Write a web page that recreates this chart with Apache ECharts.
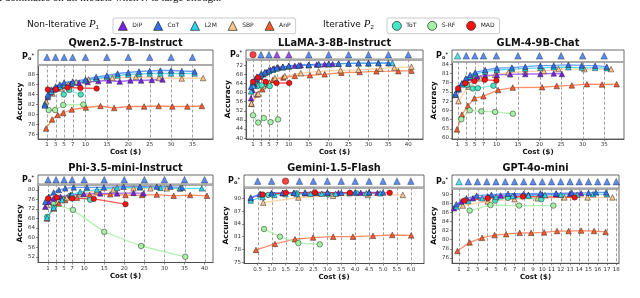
<!DOCTYPE html>
<html><head><meta charset="utf-8">
<script src="https://cdn.jsdelivr.net/npm/echarts@6/dist/echarts.min.js"></script>
<style>html,body{margin:0;padding:0;background:#fff}#c{width:640px;height:298px}</style>
</head><body><div id="c"></div>
<script>
// ---------------- DATA ----------------
const methods = ['AnP','SBP','S-RF','ToT','DiP','L2M','CoT','MAD'];
const legendP1 = ['DiP','CoT','L2M','SBP','AnP'];
const legendP2 = ['ToT','S-RF','MAD'];

// Qwen2.5-7B-Instruct
const qwenDiP = [[0.5,82.0],[1.2,83.5],[1.8,84.4],[2.5,85.0],[3.5,85.4],[5,85.8],[6.5,86.1],[8.5,86.3],[10.5,86.5],[13,86.7],[15.5,86.8],[18,86.6],[20.5,86.8],[23,86.8],[25.5,86.9],[28,87.0]];
const qwenCoT = [[0.5,81.8],[1.2,84.0],[2,85.0],[3,85.6],[4,86.0],[5,86.4],[7,86.6],[10,87.0],[12.5,87.5],[15,87.8],[17.5,88.2],[20,88.4],[22.5,88.6],[25,88.7],[27.5,88.8],[30,88.8],[32.5,88.7],[35.5,88.6]];
const qwenL2M = [[0.5,82.1],[1.2,83.8],[2,84.6],[3,85.2],[4,85.6],[5,85.9],[7,86.3],[10,86.8],[12.5,87.2],[15,87.5],[17.5,87.8],[20,88.0],[22.5,88.1],[25,88.2],[27.5,88.2],[30,88.2],[32.5,88.2],[35.5,88.2]];
const qwenSBP = [[0.8,82.6],[2.3,84.2],[4.3,85.2],[6,86.0],[7.8,86.5],[10.7,87.0],[16.3,87.3],[21.8,87.5],[27.2,87.3],[32.5,87.2],[37.5,87.3]];
const qwenAnP = [[0.8,77.2],[2.2,79.0],[3.5,79.9],[4.8,80.3],[6.8,81.0],[10.1,81.4],[13.5,81.7],[16.7,81.3],[20.2,81.6],[23.7,81.6],[27.1,81.7],[30.3,81.6],[33.8,81.6],[37.2,81.7]];
const qwenToT = [[4.9,84.0],[6.2,84.9],[8.9,84.0]];
const qwenSRF = [[1.4,80.9],[2.9,80.9],[4.8,81.9],[9.5,82.0]];
const qwenMAD = [[1.2,85.0],[3.1,85.0],[5.8,85.4],[8.8,85.3],[12.6,85.2]];
const qwenPoX = [1,3,5,7,10,15,20,25,30,35];
const qwenPoM = ['CoT','CoT','CoT','CoT','CoT','CoT','CoT','CoT','CoT','CoT'];
const qwenXTicks = [1,3,5,7,10,15,20,25,30,35];
const qwenYTicks = [76,78,80,82,84,86,88];

// LLaMA-3-8B-Instruct
const llamaDiP = [[0.5,57.5],[0.9,61],[1.4,63.5],[2,65.5],[2.8,67],[3.6,68],[4.5,69],[5.4,70],[6.3,70.6],[7.3,71],[8.5,71.3],[10,71.5],[11.5,71.8],[13,72],[15,72.1],[17,72.3],[19,72.4],[21,72.5]];
const llamaCoT = [[0.5,62.5],[1,64.5],[1.5,66],[2,67],[3,68.2],[4,69],[5,69.8],[6,70.4],[7,71],[8.5,71.3],[10,71.8],[12.5,72],[15,72.2],[17.5,72.5],[20,72.6],[22.5,72.7],[25,72.8],[27.5,72.9],[30,72.9],[32.5,73.0],[35,72.9]];
const llamaL2M = [[0.5,60.5],[1,63],[1.5,65],[2,66.3],[3,67.6],[4,68.6],[5,69.4],[6,70],[7,70.6],[8.5,71],[10,71.4],[12.5,71.8],[15,72],[17.5,72.3],[20,72.4],[22.5,72.6],[25,72.7],[27.5,72.8],[30,72.8],[32.5,72.9],[36,73.0]];
const llamaSBP = [[0.6,55.2],[2.3,59.5],[3.6,62.8],[5.1,64.3],[6.5,66.3],[9,67.2],[13,68.5],[17.5,69.3],[23,69.8],[27.5,70.0],[33,70.5],[36.5,70.9],[40.8,71.3]];
const llamaAnP = [[0.6,55.0],[2.0,59.1],[3.35,61.4],[4.8,63.5],[6.0,65.6],[8.6,66.6],[11.5,67.3],[15.3,67.6],[19.0,68.0],[23.2,68.7],[27.8,69.0],[32.0,69.3],[37.5,69.4],[40.8,69.6]];
const llamaToT = [[2.1,62.8],[3.2,63.2],[5.2,62.8]];
const llamaSRF = [[1.0,50.0],[2.3,46.8],[3.7,48.8],[5.4,47.0],[7.3,48.2]];
const llamaMAD = [[1.0,64.7],[2.3,66.6],[4.2,64.7],[6.9,64.2],[10.1,64.2]];
const llamaPoX = [1,3,5,7,10,15,20,25,30,35,40];
const llamaPoM = ['MAD','CoT','CoT','DiP','DiP','CoT','CoT','CoT','CoT','CoT','CoT'];
const llamaXTicks = [1,3,5,7,10,15,20,25,30,35,40];
const llamaYTicks = [40,44,48,52,56,60,64,68,72];

// GLM-4-9B-Chat
const glmDiP = [[0.5,74.0],[1.2,75.8],[2.0,77.6],[2.8,78.7],[3.9,79.6],[5.5,80.0],[7.4,80.3],[10.1,80.5],[13.2,80.7],[16.7,80.8],[20.2,80.8],[23.3,81.0],[25.2,80.8]];
const glmCoT = [[0.5,74.5],[1.2,76.4],[2.0,77.8],[2.9,79.4],[3.9,80.5],[5.1,81.3],[7.4,82.1],[10.1,82.7],[13.6,82.9],[16.7,83.2],[20.2,83.5],[23.3,83.6],[26.7,83.8],[29.8,83.6],[32.9,83.5],[35.6,83.2]];
const glmL2M = [[0.5,74.2],[1.2,76.0],[2.0,77.4],[2.9,78.9],[3.9,80.0],[5.1,80.8],[7.4,81.6],[10.1,82.1],[13.6,82.4],[16.7,82.6],[20.2,82.8],[23.3,83.0],[26.7,83.0],[29.8,82.9],[32.9,82.8],[35.6,82.7]];
const glmSBP = [[1.2,72.0],[3.5,76.7],[6.3,79.4],[9.7,80.5],[12.8,81.3],[16.7,81.6],[21,81.8],[24.4,82.4],[30.4,82.4],[36.6,82.4]];
const glmAnP = [[0.85,62.8],[2.0,67.6],[3.4,70.5],[4.9,72.9],[7.0,73.6],[10.4,75.6],[13.8,76.4],[20.6,76.5],[24.0,76.9],[27.5,77.1],[31.0,77.5],[34.5,77.4],[37.9,77.5]];
const glmToT = [[3.2,77.2],[4.5,76.1],[5.7,76.2],[9.3,77.0]];
const glmSRF = [[1.85,66.1],[3.8,69.0],[6.5,68.7],[9.7,68.5],[13.8,67.9]];
const glmMAD = [[1.1,76.1],[2.8,77.8],[4.9,78.5],[7.3,78.9],[10.0,78.7]];
const glmPoX = [1,3,5,7,10,15,20,25,30,35];
const glmPoM = ['L2M','CoT','CoT','CoT','CoT','CoT','CoT','CoT','CoT','CoT'];
const glmXTicks = [1,3,5,7,10,15,20,25,30,35];
const glmYTicks = [60,63,66,69,72,75,78,81,84];

// Phi-3.5-mini-Instruct
const phiDiP = [[0.3,72.9],[1.2,75.0],[2.4,76.4],[4.1,77.1],[6.6,77.8],[9.9,78.2],[14.0,78.5],[18.2,78.5],[22.3,78.7],[24.8,78.5]];
const phiCoT = [[0.3,75.0],[1.2,77.1],[2.4,78.9],[3.7,79.9],[5.3,80.6],[7.4,81.0],[10.7,81.0],[14.9,81.0],[19.8,81.3],[23.9,81.3],[28.1,81.3],[31.5,81.3],[34.4,80.9]];
const phiL2M = [[0.75,68.3],[2.4,72.5],[4.5,75.7],[7.0,78.0],[9.0,79.2],[13.2,80.1],[18.2,80.8],[23.9,81.0],[29.0,80.8],[33.9,80.6],[39.3,80.6]];
const phiSBP = [[0.75,73.6],[2.8,75.0],[5.7,76.8],[9.0,78.5],[13.2,79.4],[17.3,80.1],[22.3,80.6],[26.5,80.6],[30.6,80.6],[33.9,80.6]];
const phiAnP = [[0.75,68.0],[2.4,72.2],[3.7,74.3],[5.3,75.7],[8.2,76.7],[11.4,77.8],[16.5,78.1],[20.3,77.8],[24.4,77.8],[28.1,78.0],[32.3,77.5],[36.4,77.8],[40.6,77.5]];
const phiToT = [[0.8,68.7],[2.4,72.6],[4.5,76.2],[6.5,77.5],[11.5,75.8]];
const phiSRF = [[2.3,74.0],[7.2,71.6],[15.0,62.4],[24.2,56.5],[35.2,52.0]];
const phiMAD = [[1.0,76.4],[3.2,76.8],[7.0,76.4],[12.4,76.2],[20.3,74.0]];
const phiPoX = [1,3,5,7,10,15,20,25,30,35,40];
const phiPoM = ['CoT','CoT','CoT','CoT','CoT','CoT','CoT','CoT','CoT','CoT','CoT'];
const phiXTicks = [1,3,5,7,10,15,20,25,30,35,40];
const phiYTicks = [52,56,60,64,68,72,76,80];

// Gemini-1.5-Flash
const gemDiP = [[0.25,90.0],[0.6,91.0],[1.0,91.2],[1.4,91.2],[1.8,91.3],[2.2,91.2],[2.6,91.3],[3.0,91.3],[3.4,91.3],[3.8,91.4],[4.2,91.3],[4.5,91.4],[4.8,91.3]];
const gemCoT = [[0.25,90.2],[0.58,91.0],[1.0,91.2],[1.4,91.3],[1.8,91.3],[2.2,91.4],[2.6,91.4],[3.0,91.4],[3.5,91.3],[4.0,91.4],[4.5,91.4],[5.0,91.4]];
const gemL2M = [[0.25,89.5],[0.68,90.3],[1.1,90.8],[1.5,91.0],[1.9,91.0],[2.4,91.1],[2.8,91.1],[3.3,91.1],[3.8,91.2],[4.4,91.2],[4.9,91.2]];
const gemSBP = [[0.7,89.0],[1.96,90.2],[3.21,90.6],[4.46,90.8],[5.71,90.8]];
const gemAnP = [[0.44,77.9],[1.12,79.3],[1.84,80.4],[2.49,80.8],[3.21,81.0],[3.92,81.0],[4.64,81.2],[5.33,81.4],[6.01,81.3]];
const gemToT = [[0.88,90.8],[1.9,91.2],[3.03,90.9],[4.04,91.2]];
const gemSRF = [[0.73,82.8],[1.3,81.0],[1.96,79.5],[2.73,79.2]];
const gemMAD = [[0.68,90.9],[1.51,91.3],[2.55,91.4],[3.81,91.3],[5.24,91.3]];
const gemPoX = [0.5,1.0,1.5,2.0,2.5,3.0,3.5,4.0,4.5,5.0,5.5,6.0];
const gemPoM = ['CoT','CoT','MAD','CoT','CoT','CoT','CoT','CoT','CoT','CoT','CoT','CoT'];
const gemXTicks = [0.5,1.0,1.5,2.0,2.5,3.0,3.5,4.0,4.5,5.0,5.5,6.0];
const gemYTicks = [75,78,81,84,87,90];

// GPT-4o-mini
const gptDiP = [[0.46,86.9],[1.25,88.4],[2.5,89.1],[4.1,89.5],[5.5,89.7],[7,89.8],[8.5,89.9],[10,89.9],[11.5,90.0],[13,90.1],[14.2,90.2]];
const gptCoT = [[0.7,87.8],[1.8,89.1],[2.9,89.7],[4.5,89.9],[6.3,90.1],[8,90.1],[9.8,90.2],[11.5,90.2],[13.2,90.3],[15,90.3],[15.8,90.4],[16.9,90.4]];
const gptL2M = [[0.7,87.3],[2.0,88.5],[3.5,89.1],[5,89.4],[6.8,89.6],[8.5,89.7],[10.3,89.8],[12,89.9],[13.8,89.9],[15.5,90.0],[17.0,90.0]];
const gptSBP = [[1.4,87.5],[4.1,88.4],[7.0,88.9],[9.5,89.1],[12.4,89.3],[14.9,89.3],[17.6,89.3]];
const gptAnP = [[0.82,77.5],[2.15,79.4],[3.49,80.4],[4.85,81.0],[6.1,81.2],[7.56,81.5],[8.8,81.5],[10.2,81.6],[11.6,81.9],[12.85,81.9],[14.2,82.0],[15.6,81.9],[16.85,81.7]];
const gptToT = [[4.9,88.6],[6.3,89.2],[9.9,88.9]];
const gptSRF = [[2.15,86.4],[4.4,87.6],[7.5,87.5],[11.2,87.5]];
const gptMAD = [[1.6,88.6],[4.1,89.1],[7.9,89.5],[13.5,89.3]];
const gptPoX = [1,2,3,4,5,6,7,8,9,10,11,12,13,14,15,16,17,18];
const gptPoM = ['L2M','CoT','CoT','CoT','CoT','CoT','CoT','CoT','CoT','CoT','CoT','CoT','CoT','CoT','CoT','CoT','CoT','CoT'];
const gptXTicks = [1,2,3,4,5,6,7,8,9,10,11,12,13,14,15,16,17,18];
const gptYTicks = [76,78,80,82,84,86,88,90];

// ---------------- STYLE / LAYOUT ----------------
const markerColor = {'DiP':'#7b1fe8','CoT':'#2f6ff2','L2M':'#27d6ee','SBP':'#ffc58a','AnP':'#ff5a2a','ToT':'#45e6c6','S-RF':'#a4f2a4','MAD':'#ff1010'};
const lineColor = {'DiP':'#8a3cf0','CoT':'#3d7cf5','L2M':'#2ad0e8','SBP':'#ffc38a','AnP':'#ff6a3a','ToT':'#5ee8cc','S-RF':'#98ee98','MAD':'#ff2020'};
const markerSymbol = {'DiP':'triangle','CoT':'triangle','L2M':'triangle','SBP':'triangle','AnP':'triangle','ToT':'circle','S-RF':'circle','MAD':'circle'};
const FONT = 'DejaVu Sans';

const panels = [
  {title:'Qwen2.5-7B-Instruct', d:{DiP:qwenDiP,CoT:qwenCoT,L2M:qwenL2M,SBP:qwenSBP,AnP:qwenAnP,ToT:qwenToT,'S-RF':qwenSRF,MAD:qwenMAD},
   poX:qwenPoX, poM:qwenPoM, xt:qwenXTicks, yt:qwenYTicks, xr:[-1.1,39.8], yr:[75.1,90.0], box:[38,213,50,64.5,139], dec:0},
  {title:'LLaMA-3-8B-Instruct', d:{DiP:llamaDiP,CoT:llamaCoT,L2M:llamaL2M,SBP:llamaSBP,AnP:llamaAnP,ToT:llamaToT,'S-RF':llamaSRF,MAD:llamaMAD},
   poX:llamaPoX, poM:llamaPoM, xt:llamaXTicks, yt:llamaYTicks, xr:[-0.76,43.7], yr:[39.6,74.6], box:[246,423,50,59.3,139], dec:0},
  {title:'GLM-4-9B-Chat', d:{DiP:glmDiP,CoT:glmCoT,L2M:glmL2M,SBP:glmSBP,AnP:glmAnP,ToT:glmToT,'S-RF':glmSRF,MAD:glmMAD},
   poX:glmPoX, poM:glmPoM, xt:glmXTicks, yt:glmYTicks, xr:[-0.3,39.6], yr:[59.7,84.8], box:[452,624,50,61.7,139], dec:0},
  {title:'Phi-3.5-mini-Instruct', d:{DiP:phiDiP,CoT:phiCoT,L2M:phiL2M,SBP:phiSBP,AnP:phiAnP,ToT:phiToT,'S-RF':phiSRF,MAD:phiMAD},
   poX:phiPoX, poM:phiPoM, xt:phiXTicks, yt:phiYTicks, xr:[-1.5,42.1], yr:[49.6,82.3], box:[38,213,175,184.3,262.5], dec:0},
  {title:'Gemini-1.5-Flash', d:{DiP:gemDiP,CoT:gemCoT,L2M:gemL2M,SBP:gemSBP,AnP:gemAnP,ToT:gemToT,'S-RF':gemSRF,MAD:gemMAD},
   poX:gemPoX, poM:gemPoM, xt:gemXTicks, yt:gemYTicks, xr:[0.01,6.47], yr:[74.7,92.6], box:[244,424,175,187.3,263.5], dec:1},
  {title:'GPT-4o-mini', d:{DiP:gptDiP,CoT:gptCoT,L2M:gptL2M,SBP:gptSBP,AnP:gptAnP,ToT:gptToT,'S-RF':gptSRF,MAD:gptMAD},
   poX:gptPoX, poM:gptPoM, xt:gptXTicks, yt:gptYTicks, xr:[0.24,18.3], yr:[74.8,91.3], box:[452,619,175,188.3,263.3], dec:0}
];

const option = {
  animation:false,
  textStyle:{fontFamily:FONT},
  grid:[], xAxis:[], yAxis:[], series:[],
  legend:[
    {data:legendP1.map(n=>({name:n, icon:'triangle'})), left:113, top:18, itemWidth:9, itemHeight:9, itemGap:11,
     padding:[3,5], borderColor:'#bbb', borderWidth:0.8, borderRadius:2, selectedMode:false,
     itemStyle:{borderColor:'#222', borderWidth:0.7},
     textStyle:{fontSize:6, fontFamily:FONT, color:'#222'}},
    {data:legendP2.map(n=>({name:n, icon:'circle'})), left:387, top:18, itemWidth:9, itemHeight:9, itemGap:11,
     padding:[3,5], borderColor:'#bbb', borderWidth:0.8, borderRadius:2, selectedMode:false,
     itemStyle:{borderColor:'#222', borderWidth:0.7},
     textStyle:{fontSize:6, fontFamily:FONT, color:'#222'}}
  ],
  graphic:[
    {type:'text', left:-1, top:-7, style:{text:'t dominates on all models when {i|N} is large enough.', font:'11px "Liberation Serif"', fill:'#111',
      rich:{i:{fontStyle:'italic', fontFamily:'Liberation Serif', fontSize:11}}}},
    {type:'text', left:27, top:19, style:{text:'Non-Iterative {p|P}{s|1}', font:'9px "DejaVu Sans"', fill:'#111',
      rich:{p:{fontStyle:'italic', fontFamily:'Liberation Serif', fontSize:11}, s:{fontSize:6, verticalAlign:'bottom', padding:[4,0,0,0]}}}},
    {type:'text', left:323, top:19, style:{text:'Iterative {p|P}{s|2}', font:'9px "DejaVu Sans"', fill:'#111',
      rich:{p:{fontStyle:'italic', fontFamily:'Liberation Serif', fontSize:11}, s:{fontSize:6, verticalAlign:'bottom', padding:[4,0,0,0]}}}}
  ]
};

// Dashed guide drawn as short solid segments between two points given by the axis scale
function dashedGuide(params, api){
  const x = api.value(0), y0 = api.value(1), y1 = api.value(2);
  const top = api.coord([x, y1]), bot = api.coord([x, y0]);
  const px = Math.round(top[0]) + 0.5;
  const children = [];
  const dash = 3, gap = 2;
  for (let y = top[1]; y < bot[1]; y += dash + gap) {
    children.push({type:'line', shape:{x1:px, y1:y, x2:px, y2:Math.min(y + dash, bot[1])},
      style:{stroke:'#9e9e9e', lineWidth:1}});
  }
  return {type:'group', children};
}

panels.forEach((p,i)=>{
  const [L,R,T,S,B] = p.box;
  const gs = 2*i, gm = 2*i+1;
  option.grid.push({left:L, top:T, width:R-L, height:S-T, show:true, borderColor:'#444', borderWidth:0.8, backgroundColor:'transparent', outerBoundsMode:'none', containLabel:false});
  option.grid.push({left:L, top:S, width:R-L, height:B-S, show:true, borderColor:'#444', borderWidth:0.8, backgroundColor:'transparent', outerBoundsMode:'none', containLabel:false});
  // strip axes
  option.xAxis.push({gridIndex:gs, type:'value', min:p.xr[0], max:p.xr[1],
    axisLine:{show:true, onZero:false, lineStyle:{color:'#aaa', width:2}}, axisTick:{show:false}, axisLabel:{show:false}, splitLine:{show:false}});
  option.yAxis.push({gridIndex:gs, type:'value', min:-1, max:1, axisLine:{show:false}, axisTick:{show:false}, splitLine:{show:false},
    axisLabel:{customValues:[0], margin:4, formatter:()=>'{p|P}{s|o}{t|*}',
      rich:{p:{fontSize:8, fontWeight:'bold', fontFamily:FONT, color:'#111'}, s:{fontSize:5, fontWeight:'bold', verticalAlign:'bottom', color:'#111', padding:[3,0,0,0]}, t:{fontSize:5, fontWeight:'bold', verticalAlign:'top', color:'#111', padding:[0,0,3,0]}}}});
  // main axes
  option.xAxis.push({gridIndex:gm, type:'value', min:p.xr[0], max:p.xr[1],
    name:'Cost ($)', nameLocation:'middle', nameGap:9, nameTextStyle:{fontSize:7, fontWeight:'bold', fontFamily:FONT, color:'#111'},
    axisLine:{show:true, onZero:false, lineStyle:{color:'#444', width:0.8}},
    axisTick:{show:true, customValues:p.xt, length:2, lineStyle:{color:'#444', width:0.6}},
    axisLabel:{customValues:p.xt, fontSize:5.5, color:'#333', margin:3, formatter:v=>Number(v).toFixed(p.dec)},
    splitLine:{show:false}});
  option.yAxis.push({gridIndex:gm, type:'value', min:p.yr[0], max:p.yr[1],
    name:'Accuracy', nameLocation:'middle', nameGap:13, nameRotate:90, nameTextStyle:{fontSize:7.5, fontWeight:'bold', fontFamily:FONT, color:'#111'},
    axisLine:{show:true, onZero:false, lineStyle:{color:'#444', width:0.8}},
    axisTick:{show:true, customValues:p.yt, length:2, lineStyle:{color:'#444', width:0.6}},
    axisLabel:{customValues:p.yt, fontSize:5.5, color:'#333', margin:3},
    splitLine:{show:false}});
  // title
  option.graphic.push({type:'text', x:(L+R)/2, y:T-7, style:{text:p.title, font:'bold 9.8px "DejaVu Sans"', fill:'#111', textAlign:'center', textVerticalAlign:'middle'}});
  // dashed vertical guides at the tick positions
  option.series.push({type:'custom', xAxisIndex:gm, yAxisIndex:gm, silent:true, z:1, clip:false,
    encode:{x:0, y:1},
    data:p.xt.map(v=>[v, p.yr[0], p.yr[1]]),
    renderItem:dashedGuide});
  // method series
  methods.forEach(m=>{
    option.series.push({type:'line', name:m, xAxisIndex:gm, yAxisIndex:gm, data:p.d[m], symbol:markerSymbol[m], symbolSize:5.5,
      itemStyle:{color:markerColor[m], borderColor:'#222', borderWidth:0.5}, z:3,
      lineStyle:{color:lineColor[m], width:1.3, opacity:0.75}, emphasis:{disabled:true}, silent:true});
  });
  // Po* strip markers
  option.series.push({type:'scatter', xAxisIndex:gs, yAxisIndex:gs, symbolSize:6.5, silent:true,
    itemStyle:{borderColor:'#222', borderWidth:0.5},
    data:p.poX.map((x,k)=>({value:[x,0], symbol:markerSymbol[p.poM[k]], itemStyle:{color:markerColor[p.poM[k]]}}))});
});

const chart = echarts.init(document.getElementById('c'), null, {renderer:'canvas'});
chart.setOption(option);
</script>
</body></html>
